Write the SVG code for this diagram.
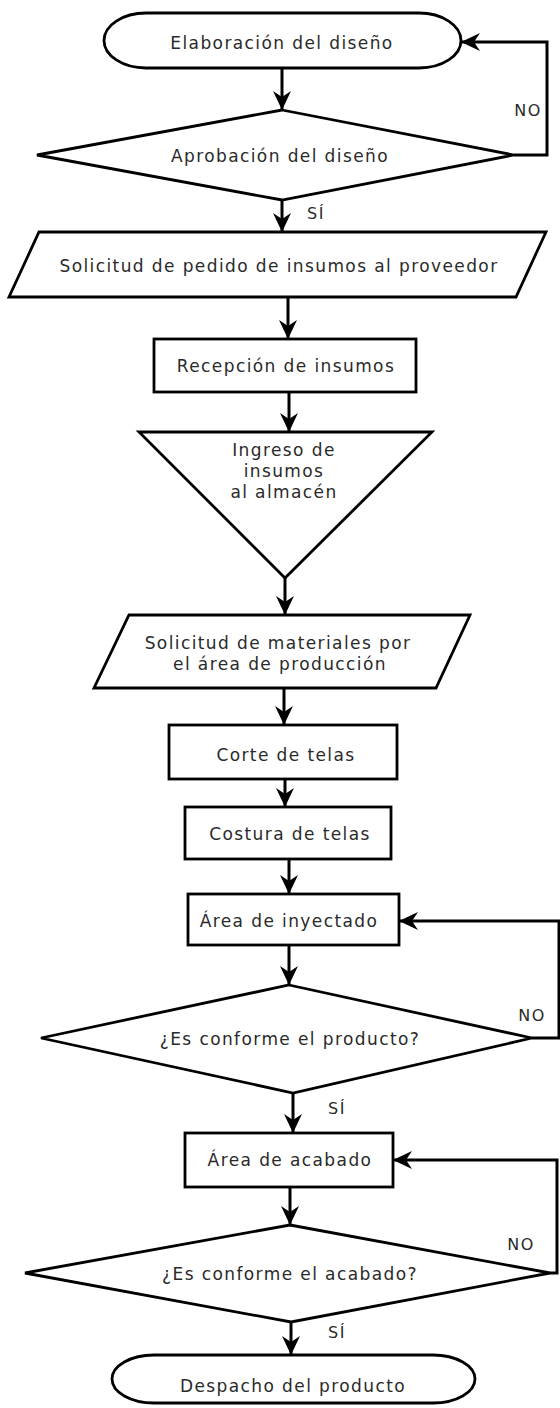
<svg xmlns="http://www.w3.org/2000/svg" width="560" height="1408" viewBox="0 0 560 1408">
<defs>
<style>
.s{fill:#fff;stroke:#000;stroke-width:2.8;stroke-linejoin:miter}
.t{font-family:"DejaVu Sans",Verdana,sans-serif;font-size:17px;letter-spacing:1.4px;fill:#2a2a2a;text-anchor:middle}
.l{font-family:"DejaVu Sans",Verdana,sans-serif;font-size:16px;letter-spacing:1.5px;fill:#2a2a2a;text-anchor:middle}
.c{fill:none;stroke:#000;stroke-width:3}
</style>
<marker id="ah" markerUnits="userSpaceOnUse" markerWidth="20" markerHeight="20" viewBox="0 0 20 20" refX="18" refY="10" orient="auto">
<path d="M0,1 L19,10 L0,19 L6,10 z" fill="#000"/>
</marker>
</defs>
<rect width="560" height="1408" fill="#fff"/>
<g id="connectors">
<path class="c" d="M282,68 V109" marker-end="url(#ah)"/>
<path class="c" d="M514,155 H547 V42 H462" marker-end="url(#ah)"/>
<path class="c" d="M282,200 V231" marker-end="url(#ah)"/>
<path class="c" d="M288,298 V338" marker-end="url(#ah)"/>
<path class="c" d="M289,392 V431" marker-end="url(#ah)"/>
<path class="c" d="M285,578 V614" marker-end="url(#ah)"/>
<path class="c" d="M284,688 V724" marker-end="url(#ah)"/>
<path class="c" d="M285,779 V806" marker-end="url(#ah)"/>
<path class="c" d="M289,859 V893" marker-end="url(#ah)"/>
<path class="c" d="M289,945 V984" marker-end="url(#ah)"/>
<path class="c" d="M532,1038 H559 V921 H400" marker-end="url(#ah)"/>
<path class="c" d="M293,1093 V1132" marker-end="url(#ah)"/>
<path class="c" d="M290,1187 V1224" marker-end="url(#ah)"/>
<path class="c" d="M550,1273 H557 V1160 H394" marker-end="url(#ah)"/>
<path class="c" d="M291,1322 V1354" marker-end="url(#ah)"/>
<text class="l" x="528" y="116">NO</text>
<text class="l" x="316" y="219">SÍ</text>
<text class="l" x="532" y="1021">NO</text>
<text class="l" x="337" y="1114">SÍ</text>
<text class="l" x="521" y="1250">NO</text>
<text class="l" x="337" y="1338">SÍ</text>
</g>
<g id="n1"><rect class="s" x="104" y="13" width="357" height="55" rx="42" ry="27.5"/><text class="t" x="282" y="49">Elaboración del diseño</text></g>
<g id="n2"><path class="s" d="M282,110 L514,155 L282,200 L37,155 Z"/><text class="t" x="280" y="162">Aprobación del diseño</text></g>
<g id="n3"><path class="s" d="M39,232 H546 L516,297 H9 Z"/><text class="t" x="279" y="272">Solicitud de pedido de insumos al proveedor</text></g>
<g id="n4"><rect class="s" x="154" y="339" width="262" height="53"/><text class="t" x="286" y="372">Recepción de insumos</text></g>
<g id="n5"><path class="s" d="M139,432 H432 L285,578 Z"/><text class="t" x="284" y="456">Ingreso de</text><text class="t" x="284" y="477">insumos</text><text class="t" x="284" y="498">al almacén</text></g>
<g id="n6"><path class="s" d="M129,615 H470 L436,688 H94 Z"/><text class="t" x="278" y="649">Solicitud de materiales por</text><text class="t" x="280" y="670">el área de producción</text></g>
<g id="n7"><rect class="s" x="169" y="725" width="228" height="54"/><text class="t" x="286" y="761">Corte de telas</text></g>
<g id="n8"><rect class="s" x="185" y="807" width="206" height="52"/><text class="t" x="290" y="840">Costura de telas</text></g>
<g id="n9"><rect class="s" x="188" y="894" width="211" height="51"/><text class="t" x="289" y="927">Área de inyectado</text></g>
<g id="n10"><path class="s" d="M289,985 L532,1038 L293,1093 L41,1038 Z"/><text class="t" x="290" y="1045">¿Es conforme el producto?</text></g>
<g id="n11"><rect class="s" x="185" y="1133" width="208" height="54"/><text class="t" x="290" y="1166">Área de acabado</text></g>
<g id="n12"><path class="s" d="M290,1225 L550,1273 L291,1322 L25,1273 Z"/><text class="t" x="290" y="1280">¿Es conforme el acabado?</text></g>
<g id="n13"><rect class="s" x="112" y="1355" width="363" height="48" rx="42" ry="24"/><text class="t" x="293" y="1392">Despacho del producto</text></g>
</svg>
